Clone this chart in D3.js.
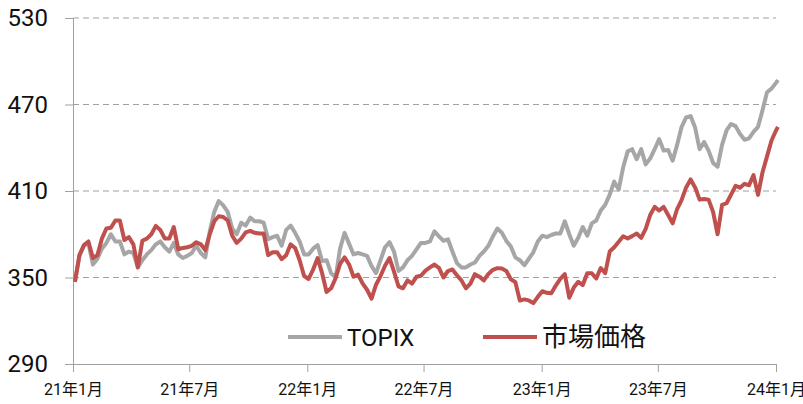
<!DOCTYPE html>
<html>
<head>
<meta charset="utf-8">
<script src="https://cdn.jsdelivr.net/npm/d3@7"></script>
<style>
  body { margin: 0; background: #fff; }
  svg { display: block; font-family: Roboto, "Noto Sans CJK JP", sans-serif; }
</style>
</head>
<body>
<div id="chart"></div>
<script>
// weekly dates, Jan 2021 - Jan 2024
const dates = [
  "2021-01-04","2021-01-11","2021-01-18","2021-01-25","2021-02-01","2021-02-08","2021-02-15","2021-02-22","2021-03-01","2021-03-08","2021-03-15","2021-03-22","2021-03-29",
  "2021-04-05","2021-04-12","2021-04-19","2021-04-26","2021-05-03","2021-05-10","2021-05-17","2021-05-24","2021-05-31","2021-06-07","2021-06-14","2021-06-21","2021-06-28",
  "2021-07-05","2021-07-12","2021-07-19","2021-07-26","2021-08-02","2021-08-09","2021-08-16","2021-08-23","2021-08-30","2021-09-06","2021-09-13","2021-09-20","2021-09-27",
  "2021-10-04","2021-10-11","2021-10-18","2021-10-25","2021-11-01","2021-11-08","2021-11-15","2021-11-22","2021-11-29","2021-12-06","2021-12-13","2021-12-20","2021-12-27",
  "2022-01-03","2022-01-10","2022-01-17","2022-01-24","2022-01-31","2022-02-07","2022-02-14","2022-02-21","2022-02-28","2022-03-07","2022-03-14","2022-03-21","2022-03-28",
  "2022-04-04","2022-04-11","2022-04-18","2022-04-25","2022-05-02","2022-05-09","2022-05-16","2022-05-23","2022-05-30","2022-06-06","2022-06-13","2022-06-20","2022-06-27",
  "2022-07-04","2022-07-11","2022-07-18","2022-07-25","2022-08-01","2022-08-08","2022-08-15","2022-08-22","2022-08-29","2022-09-05","2022-09-12","2022-09-19","2022-09-26",
  "2022-10-03","2022-10-10","2022-10-17","2022-10-24","2022-10-31","2022-11-07","2022-11-14","2022-11-21","2022-11-28","2022-12-05","2022-12-12","2022-12-19","2022-12-26",
  "2023-01-02","2023-01-09","2023-01-16","2023-01-23","2023-01-30","2023-02-06","2023-02-13","2023-02-20","2023-02-27","2023-03-06","2023-03-13","2023-03-20","2023-03-27",
  "2023-04-03","2023-04-10","2023-04-17","2023-04-24","2023-05-01","2023-05-08","2023-05-15","2023-05-22","2023-05-29","2023-06-05","2023-06-12","2023-06-19","2023-06-26",
  "2023-07-03","2023-07-10","2023-07-17","2023-07-24","2023-07-31","2023-08-07","2023-08-14","2023-08-21","2023-08-28","2023-09-04","2023-09-11","2023-09-18","2023-09-25",
  "2023-10-02","2023-10-09","2023-10-16","2023-10-23","2023-10-30","2023-11-06","2023-11-13","2023-11-20","2023-11-27","2023-12-04","2023-12-11","2023-12-18","2023-12-25",
  "2024-01-01","2024-01-04"
];

// TOPIX (gray)
const topix = [
  347,365,372,374,359,363,370,374,380,375,375,366,368,
  367,357,362,366,369,373,375,371,368,374,366,363.5,365,
  367,372,367,364,382,395.5,403,400,395.5,384,380,388,386,
  391.5,389,389,388,376.5,378,379,372,383,386,381,375,366,
  366,370,372.5,361.5,362,353,350,370,381,373.5,366,367,366,
  365,358,353,362,371,374.5,368,354.6,357,362,365,369.5,374,
  374,375,382,378.5,375.5,376.5,368,360,357,357,359,360.4,365,
  368,372,378.5,384,381,375.4,371.5,364,362,358.5,363,367.5,375,
  379,378,379.5,380.5,380.5,389,380,372,377.5,385,379,387.5,389.5,
  396.5,400.5,407.5,416.5,411,426.5,437.5,439,432,439,428.5,432.5,439,
  446,438,438.4,431,442,454.5,461,462,454,439,444,438,429.5,
  426.8,442,452,456.5,455,449.5,445.5,446.5,451,454.5,466,478.5,481,
  485,487
];

// 市場価格 (red)
const market = [
  347,365.5,372.5,375,363.5,365.5,377,384,384.5,389.5,389.5,376,378,
  373,357,375.5,377,380,385.8,383,377,377,385,369.6,370.5,371,
  372,374.5,373,369,380,389,392.5,392,389.5,379,374,377,381.3,
  382.3,381,380.5,380.5,365.5,367.5,367.5,362.7,365.5,373,370.5,362,351,
  349,355.5,363.5,353,340,342.5,349.5,359.5,364,359,350.5,352,346,
  341.5,335.3,345,351,358.2,363.5,354,343.8,342.5,348,345.8,350.5,351.2,
  354.8,357,359,356.7,350,354.5,355.6,351.6,348,342.5,345.8,352.3,350.6,
  348,352.5,355.3,356.5,356.2,354.5,348.8,346.8,334,334.8,334.1,332.2,336.6,
  340.5,339.4,339,344.4,349.1,352.4,336,343,347,344.8,353,353,349.3,
  356.6,353,368,371,374.8,378.6,377,378.7,380.5,377.5,383.8,393.3,399,
  396.5,399,393.4,387.6,397.5,403.8,412.5,418,412.5,404,404.5,404,395.5,
  380,400.3,401.5,407.5,413.6,412.3,415,414,421,407.3,423,434,445,
  452,454.5
];

const yTicks = [290, 350, 410, 470, 530];
const xTickDates = ["2021-01-01","2021-07-01","2022-01-01","2022-07-01","2023-01-01","2023-07-01","2024-01-01"];
const xTickLabels = ["21年1月","21年7月","22年1月","22年7月","23年1月","23年7月","24年1月"];
const seriesNames = ["TOPIX", "市場価格"];
const seriesColors = ["#a6a6a6", "#c0504d"];

const FRAME_WIDTH = 803;
const FRAME_HEIGHT = 404;
const MARGINS = {left: 73, right: 27, top: 18, bottom: 40};

const parse = d3.timeParse("%Y-%m-%d");

const svg = d3.select("#chart")
  .append("svg")
    .attr("width", FRAME_WIDTH)
    .attr("height", FRAME_HEIGHT);

const X_SCALE = d3.scaleTime()
  .domain([parse("2021-01-01"), parse("2024-01-01")])
  .range([MARGINS.left, FRAME_WIDTH - MARGINS.right]);

const Y_SCALE = d3.scaleLinear()
  .domain([290, 530])
  .range([FRAME_HEIGHT - MARGINS.bottom, MARGINS.top]);

// dashed grid lines
svg.append("g")
  .selectAll("line")
  .data(yTicks.slice(1))
  .enter()
  .append("line")
    .attr("x1", MARGINS.left)
    .attr("x2", FRAME_WIDTH - MARGINS.right)
    .attr("y1", d => Y_SCALE(d))
    .attr("y2", d => Y_SCALE(d))
    .attr("stroke", "#a0a0a0")
    .attr("stroke-width", 1.2)
    .attr("stroke-dasharray", "6,4");

// y axis
const yAxis = svg.append("g")
  .attr("transform", "translate(" + MARGINS.left + ",0)")
  .call(d3.axisLeft(Y_SCALE).tickValues(yTicks).tickSize(8).tickPadding(17));
yAxis.select(".domain").attr("stroke", "#a0a0a0");
yAxis.selectAll(".tick line").attr("stroke", "#a0a0a0");
yAxis.selectAll("text")
  .attr("font-size", "24px")
  .attr("fill", "#111")
  .attr("font-family", "Roboto, sans-serif");

// x axis
const xAxis = svg.append("g")
  .attr("transform", "translate(0," + Y_SCALE(290) + ")")
  .call(d3.axisBottom(X_SCALE)
    .tickValues(xTickDates.map(parse))
    .tickFormat((d, i) => xTickLabels[i])
    .tickSize(8)
    .tickSizeOuter(0)
    .tickPadding(12));
xAxis.select(".domain").attr("stroke", "#a0a0a0");
xAxis.selectAll(".tick line").attr("stroke", "#a0a0a0");
xAxis.selectAll("text")
  .attr("font-size", "16px")
  .attr("fill", "#111")
  .attr("font-family", "Roboto, 'Noto Sans CJK JP', sans-serif");

// lines
const line = d3.line()
  .x((d, i) => X_SCALE(parse(dates[i])))
  .y(d => Y_SCALE(d));

[topix, market].forEach((vals, k) => {
  svg.append("path")
    .datum(vals)
    .attr("d", line)
    .attr("fill", "none")
    .attr("stroke", seriesColors[k])
    .attr("stroke-width", 4)
    .attr("stroke-linejoin", "round");
});

// legend
const legendX = [288, 483];
const legendFont = ["24px", "26px"];
const legendY = 337;
const legend = svg.append("g");
seriesNames.forEach((name, k) => {
  legend.append("line")
    .attr("x1", legendX[k])
    .attr("x2", legendX[k] + 54)
    .attr("y1", legendY)
    .attr("y2", legendY)
    .attr("stroke", seriesColors[k])
    .attr("stroke-width", 4);
  legend.append("text")
    .attr("x", legendX[k] + 59)
    .attr("y", legendY)
    .attr("dy", "0.36em")
    .attr("font-size", legendFont[k])
    .attr("fill", "#111")
    .text(name);
});
</script>
</body>
</html>
